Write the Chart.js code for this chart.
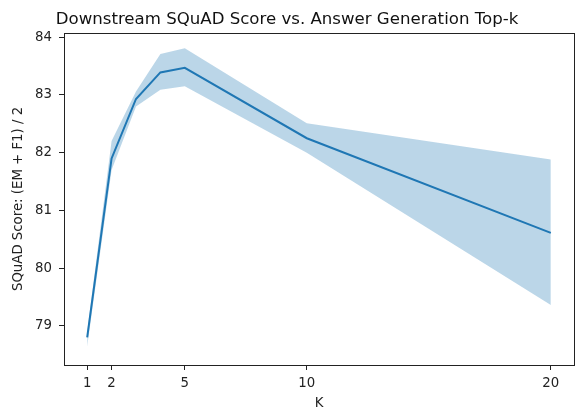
<!DOCTYPE html>
<html>
<head>
<meta charset="utf-8">
<script src="https://cdn.jsdelivr.net/npm/chart.js@4/dist/chart.umd.min.js"></script>
<style>
  html, body { margin: 0; padding: 0; background: #fff; }
  #wrap { width: 577px; height: 409px; }
</style>
</head>
<body>
<div id="wrap"><canvas id="topk-chart"></canvas></div>
<script>
// values
const kValues   = [1, 2, 3, 4, 5, 10, 20];
const meanScore = [78.80, 81.90, 82.93, 83.39, 83.47, 82.25, 80.61];
const upperBand = [78.90, 82.20, 83.06, 83.71, 83.81, 82.51, 81.88];
const lowerBand = [78.64, 81.70, 82.80, 83.09, 83.15, 82.00, 79.36];
const xTicks = [1, 2, 5, 10, 20];
const yTicks = [79, 80, 81, 82, 83, 84];

(function(){
    const canvas = document.getElementById("topk-chart");
    const blue = "#1f77b4";
    const toPoints = (ys) => kValues.map((k, i) => ({x: k, y: ys[i]}));
    const font = {family: "'DejaVu Sans'", size: 13.3};

    // matplotlib-style box around the axes
    const frame = {
        id: "frame",
        afterDraw(chart){
            const a = chart.chartArea, ctx = chart.ctx;
            ctx.save();
            ctx.strokeStyle = "#222";
            ctx.lineWidth = 1;
            ctx.strokeRect(Math.round(a.left) + 0.5, Math.round(a.top) + 0.5,
                Math.round(a.right - a.left), Math.round(a.bottom - a.top));
            ctx.restore();
        }
    };

    new Chart(canvas, {
        type: "line",
        data: {
            datasets: [{
                data: toPoints(meanScore),
                borderColor: blue,
                borderWidth: 2,
                pointRadius: 0,
                fill: false,
                tension: 0
            }, {
                data: toPoints(upperBand),
                borderWidth: 0,
                pointRadius: 0,
                backgroundColor: "rgba(31,119,180,0.3)",
                fill: "+1",
                tension: 0
            }, {
                data: toPoints(lowerBand),
                borderWidth: 0,
                pointRadius: 0,
                fill: false,
                tension: 0
            }]
        },
        options: {
            responsive: true,
            maintainAspectRatio: false,
            animation: false,
            layout: {padding: {left: 0, right: 3, top: 0, bottom: 0}},
            plugins: {
                legend: {display: false},
                tooltip: {enabled: false},
                title: {
                    display: true,
                    text: "Downstream SQuAD Score vs. Answer Generation Top-k",
                    color: "#111",
                    font: {family: "'DejaVu Sans'", size: 16.6, weight: "normal"},
                    padding: {top: 10, bottom: 3}
                }
            },
            scales: {
                x: {
                    type: "linear",
                    min: 0.05,
                    max: 20.95,
                    afterBuildTicks: (s) => { s.ticks = xTicks.map(v => ({value: v})); },
                    afterFit: (s) => { s.height = 44; },
                    grid: {display: true, drawOnChartArea: false, tickLength: 5, tickColor: "#222"},
                    border: {display: false},
                    ticks: {color: "#222", font: font, padding: 6, maxRotation: 0},
                    title: {display: true, text: "K", color: "#222", font: font, padding: {top: 0, bottom: -3}}
                },
                y: {
                    min: 78.32,
                    max: 84.075,
                    afterBuildTicks: (s) => { s.ticks = yTicks.map(v => ({value: v})); },
                    afterFit: (s) => { s.width = 64; },
                    grid: {display: true, drawOnChartArea: false, tickLength: 5, tickColor: "#222"},
                    border: {display: false},
                    ticks: {color: "#222", font: font, padding: 7},
                    title: {display: true, text: "SQuAD Score: (EM + F1) / 2", color: "#222", font: font, padding: {top: 11, bottom: 0}}
                }
            }
        },
        plugins: [frame]
    });
})();
</script>
</body>
</html>
